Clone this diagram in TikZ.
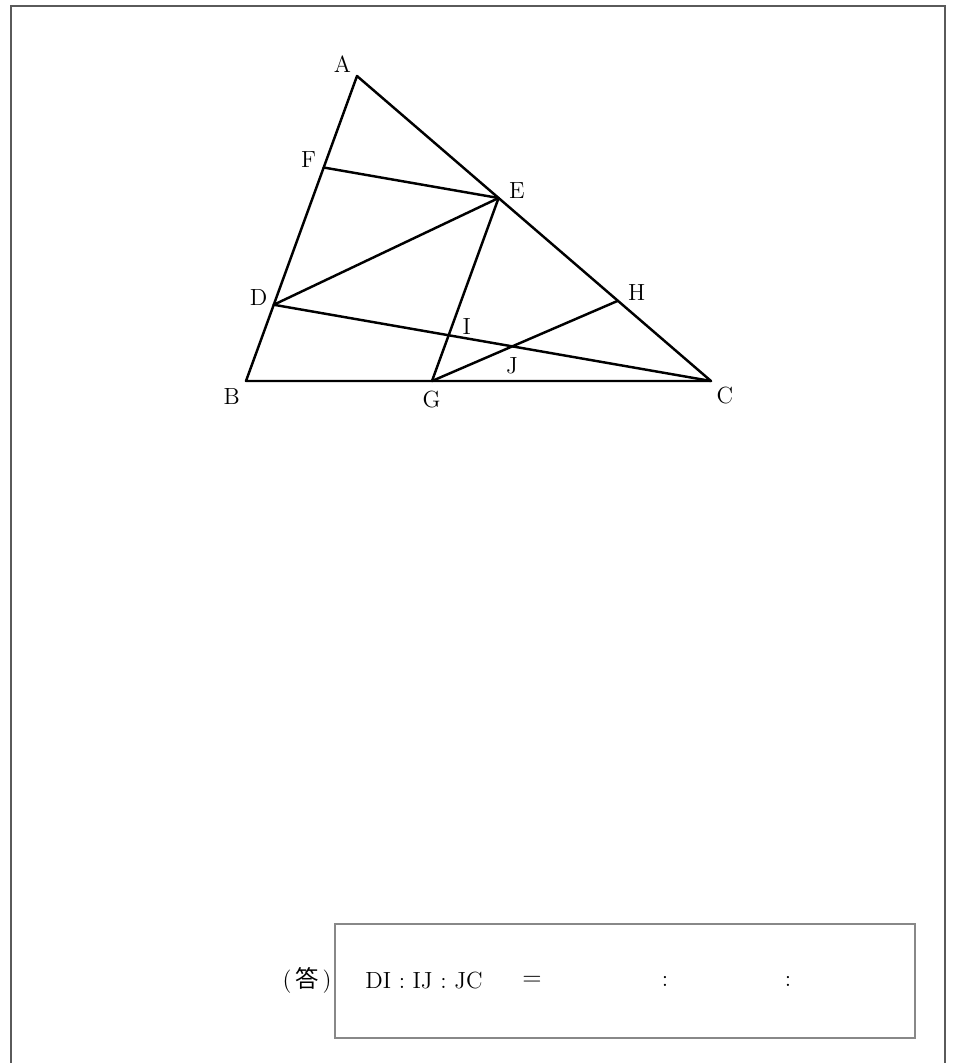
\documentclass[tikz,border=0pt]{standalone}
\usepackage{fontspec}
\newfontfamily\cjk{Noto Sans CJK JP}
\usetikzlibrary{calc}
\definecolor{framegray}{HTML}{5A5A5A}
\definecolor{boxgray}{HTML}{888888}
\begin{document}
\begin{tikzpicture}[x=0.02cm,y=-0.02cm,
  edge/.style={line width=1.4pt,line join=round,line cap=round},
  lbl/.style={inner sep=0pt,font=\fontsize{13.3}{16}\selectfont},
  ans/.style={inner sep=0pt,font=\fontsize{13.3}{16}\selectfont}]
\useasboundingbox (0,0) rectangle (959,1063);
% outer frame
\draw[framegray,line width=1.1pt] (11,1070) -- (11,6) -- (945,6) -- (945,1070);
% points
\coordinate (A) at (357,76);
\coordinate (B) at (246,381);
\coordinate (C) at (711,381);
\coordinate (F) at ($(A)!0.3!(B)$);
\coordinate (D) at ($(A)!0.75!(B)$);
\coordinate (E) at ($(A)!0.4!(C)$);
\coordinate (H) at ($(A)!0.737!(C)$);
\coordinate (G) at ($(B)!0.4!(C)$);
\coordinate (I) at (intersection of D--C and E--G);
\coordinate (J) at (intersection of D--C and G--H);
% lines
\draw[edge] (A) -- (B) -- (C) -- cycle;
\draw[edge] (F) -- (E);
\draw[edge] (D) -- (E);
\draw[edge] (E) -- (G);
\draw[edge] (D) -- (C);
\draw[edge] (G) -- (H);
% labels
\node[lbl] (lA) at (342.5,64) {A};
\node[lbl] (lF) at (308.7,160) {F};
\node[lbl] (lE) at (517,191) {E};
\node[lbl] (lD) at (258.7,298) {D};
\node[lbl] (lH) at (636.7,293) {H};
\node[lbl] (lI) at (466.7,327) {I};
\node[lbl] (lJ) at (512,366) {J};
\node[lbl] (lB) at (231.7,396.5) {B};
\node[lbl] (lG) at (431.7,399.5) {G};
\node[lbl] (lC) at (725,396) {C};
% answer box
\draw[boxgray,line width=0.8pt] (335,924) rectangle (915,1038);
\node[ans] (kotae) at (307,980) {(\,{\cjk 答}\,)};
\node[ans] (ratio) at (424,981) {DI : IJ : JC};
\node[ans] (eq) at (532,981) {$=$};
\node[ans] (c1) at (665,981) {:};
\node[ans] (c2) at (788,981) {:};
\end{tikzpicture}
\end{document}
